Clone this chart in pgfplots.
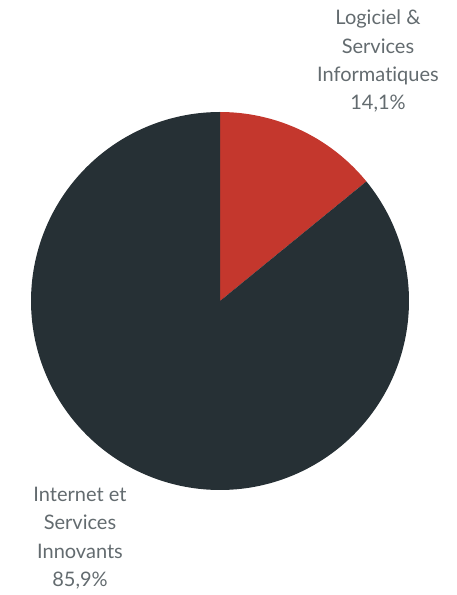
\documentclass[border=0pt]{standalone}
\usepackage{pgfplots}
\usepackage{pgfplotstable}
\pgfplotsset{compat=1.18}
\usepackage{fontspec}
\setmainfont{Lato}[Ligatures=NoCommon]

\definecolor{pieRed}{HTML}{C4372D}
\definecolor{pieDark}{HTML}{263035}
\definecolor{lblGray}{HTML}{636B6F}

% share of each segment, in percent
\pgfplotstableread[col sep=comma]{
segment,value
Logiciel,14.1
Internet,85.9
}\shares

\pgfplotstablegetelem{0}{value}\of\shares \let\valA\pgfplotsretval
\pgfplotstablegetelem{1}{value}\of\shares \let\valB\pgfplotsretval
\pgfmathsetmacro{\angA}{90-3.6*\valA}
\pgfmathsetmacro{\angB}{90+3.6*\valB}

\begin{document}
\begin{tikzpicture}
\begin{axis}[
    scale only axis,
    width=457pt, height=595pt,
    xmin=0, xmax=457, ymin=0, ymax=595,
    hide axis, clip=false,
]
\path (rel axis cs:0,0) rectangle (rel axis cs:1,1);
\def\cx{220}\def\cy{294}\def\rr{189}
\addplot[fill=pieRed, draw=none, domain=\angA:90, samples=60]
    ({\cx+\rr*cos(x)}, {\cy+\rr*sin(x)}) -- (axis cs:\cx,\cy) -- cycle;
\addplot[fill=pieDark, draw=none, domain=90:\angB, samples=240]
    ({\cx+\rr*cos(x)}, {\cy+\rr*sin(x)}) -- (axis cs:\cx,\cy) -- cycle;

\node[text=lblGray, font=\fontsize{20}{28.3}\selectfont, align=center, anchor=north, inner sep=2pt]
    at (axis cs:378,587) {Logiciel \&\\Services\\Informatiques\\14,1\%};
\node[text=lblGray, font=\fontsize{20}{28.3}\selectfont, align=center, anchor=north, inner sep=2pt]
    at (axis cs:80,110) {Internet et\\Services\\Innovants\\85,9\%};
\end{axis}
\end{tikzpicture}
\end{document}
